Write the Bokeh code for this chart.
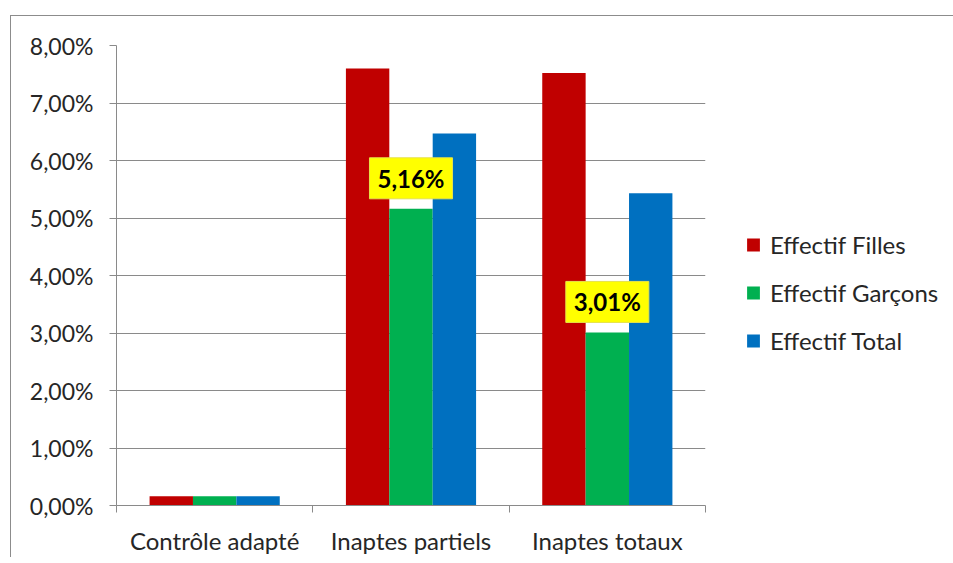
from bokeh.plotting import figure
from bokeh.models import (ColumnDataSource, FixedTicker, Label, Legend, LegendItem, Range1d)
from bokeh.transform import dodge
from bokeh.embed import file_html
from bokeh.resources import INLINE

categories = ["Contrôle adapté", "Inaptes partiels", "Inaptes totaux"]
filles = [0.16, 7.60, 7.52]
garcons = [0.16, 5.16, 3.01]
total = [0.16, 6.47, 5.43]
series_names = ["Effectif Filles", "Effectif Garçons", "Effectif Total"]
garcons_labels = ["", "5,16%", "3,01%"]
y_ticks = [0, 1, 2, 3, 4, 5, 6, 7, 8]
y_tick_labels = ["0,00%", "1,00%", "2,00%", "3,00%", "4,00%", "5,00%", "6,00%", "7,00%", "8,00%"]

FONT = "Lato"
TXT = "#262626"
GRID = "#8a8a8a"
colors = ["#C00000", "#00B050", "#0070C0"]

xpos = [i + 0.5 for i in range(len(categories))]
src = ColumnDataSource(dict(x=xpos, filles=filles, garcons=garcons, total=total))

p = figure(frame_width=589, frame_height=460, output_backend="svg", toolbar_location=None,
           x_range=Range1d(0, len(categories)), y_range=Range1d(0, 8),
           min_border_left=105, min_border_right=10, min_border_top=29, min_border_bottom=49)
p.styles = {"border-top": "1px solid #8c8c8c", "border-left": "1px solid #8c8c8c",
            "margin-left": "10px", "margin-top": "15px"}
p.outline_line_color = None
p.background_fill_color = "white"
p.border_fill_color = "white"

w = 0.221
r1 = p.vbar(x=dodge("x", -w, range=p.x_range), top="filles", width=w, source=src,
            fill_color=colors[0], line_color=None)
r2 = p.vbar(x=dodge("x", 0, range=p.x_range), top="garcons", width=w, source=src,
            fill_color=colors[1], line_color=None)
r3 = p.vbar(x=dodge("x", w, range=p.x_range), top="total", width=w, source=src,
            fill_color=colors[2], line_color=None)

# data labels
for i in range(len(categories)):
    if garcons_labels[i]:
        p.add_layout(Label(x=xpos[i], y=garcons[i], text=garcons_labels[i],
                           text_align="center", text_baseline="bottom", y_offset=10,
                           text_font=FONT, text_font_style="bold", text_font_size="24px",
                           text_color="black", background_fill_color="#FFFF00",
                           border_line_color="#E6E24A", padding=(8, 6)))

# y axis
p.yaxis.ticker = FixedTicker(ticks=y_ticks)
p.yaxis.major_label_overrides = {t: l for t, l in zip(y_ticks, y_tick_labels)}
p.yaxis.axis_line_color = GRID
p.yaxis.major_tick_line_color = GRID
p.yaxis.major_tick_out = 7
p.yaxis.major_tick_in = 0
p.yaxis.minor_tick_line_color = None
p.yaxis.major_label_standoff = 16
p.yaxis.major_label_text_font = FONT
p.yaxis.major_label_text_font_size = "23px"
p.yaxis.major_label_text_color = TXT

# x axis
p.xaxis.ticker = FixedTicker(ticks=xpos, minor_ticks=list(range(len(categories) + 1)))
p.xaxis.major_label_overrides = {x: c for x, c in zip(xpos, categories)}
p.xaxis.axis_line_color = GRID
p.xaxis.major_tick_line_color = None
p.xaxis.minor_tick_line_color = GRID
p.xaxis.minor_tick_out = 7
p.xaxis.minor_tick_in = 0
p.xaxis.major_tick_out = 7
p.xaxis.major_label_standoff = 13
p.xaxis.major_label_text_font = FONT
p.xaxis.major_label_text_font_size = "24px"
p.xaxis.major_label_text_color = TXT

p.xgrid.grid_line_color = None
p.ygrid.grid_line_color = GRID
p.ygrid.grid_line_width = 1

legend = Legend(items=[LegendItem(label=series_names[0], renderers=[r1]),
                       LegendItem(label=series_names[1], renderers=[r2]),
                       LegendItem(label=series_names[2], renderers=[r3])],
                location="center_left", orientation="vertical",
                title=" ", title_text_font_size="24px", title_standoff=6,
                label_text_font=FONT, label_text_font_size="24px", label_text_color=TXT,
                glyph_width=16, glyph_height=16, label_height=29, spacing=19,
                label_standoff=9, padding=0, margin=40,
                border_line_color=None, background_fill_alpha=0)
p.add_layout(legend, "right")

open("out.html", "w").write(file_html(p, INLINE))
